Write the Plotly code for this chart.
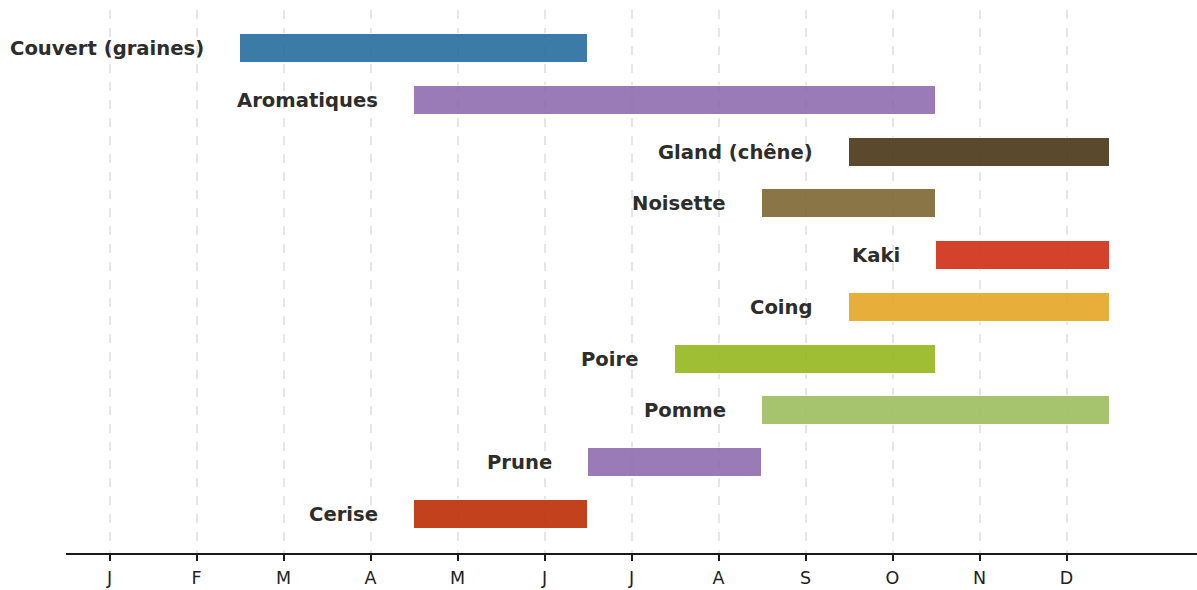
import plotly.graph_objects as go

month_labels = ["J", "F", "M", "A", "M", "J", "J", "A", "S", "O", "N", "D"]

# Items from bottom to top
items = ["Cerise", "Prune", "Pomme", "Poire", "Coing", "Kaki", "Noisette",
         "Gland (chêne)", "Aromatiques", "Couvert (graines)"]
start_month = [5, 7, 9, 8, 10, 11, 9, 10, 5, 3]   # 1 = janvier
end_month = [6, 8, 12, 10, 12, 12, 10, 12, 10, 6]
colors = ["#bd2e05", "#906cb0", "#9dbd5f", "#95b81f", "#e5a725", "#d12e15",
          "#7e6734", "#4a3617", "#906cb0", "#276c9e"]

ypos = list(range(len(items)))
base = [s - 1 - 0.5 for s in start_month]
length = [e - s + 1 for s, e in zip(start_month, end_month)]

fig = go.Figure()
fig.add_trace(go.Bar(
    y=ypos, x=length, base=base, orientation="h",
    marker=dict(color=colors, opacity=0.9, line=dict(color="white", width=1)),
    width=0.56, showlegend=False, hoverinfo="skip",
))

for y, b, name in zip(ypos, base, items):
    fig.add_annotation(
        x=b - 0.39, y=y, text=f"<b>{name}</b>", showarrow=False,
        xanchor="right", yanchor="middle",
        font=dict(family="DejaVu Sans", size=19.6, color="#2d2d2a"),
    )

fig.update_layout(
    width=1197, height=590,
    margin=dict(l=66, r=0, t=10, b=37),
    plot_bgcolor="white", paper_bgcolor="white",
    font=dict(family="DejaVu Sans", size=17, color="#222"),
    bargap=0,
)
fig.update_xaxes(
    range=[-0.5, 12.5], tickmode="array",
    tickvals=list(range(12)), ticktext=month_labels,
    showgrid=True, gridcolor="#e6e6e6", gridwidth=1.5, griddash="dash",
    showline=True, linecolor="#1a1a1a", linewidth=2,
    ticks="outside", ticklen=6, tickwidth=1.5, tickcolor="#1a1a1a",
    tickfont=dict(family="DejaVu Sans", size=17.5, color="#222"),
    ticklabelstandoff=2,
    zeroline=False, fixedrange=True,
)
fig.update_yaxes(
    range=[-0.75, 9.75], showgrid=False, showticklabels=False,
    showline=False, zeroline=False, ticks="", fixedrange=True,
)

fig.write_html(
    "out.html",
    config={"displayModeBar": False},
    post_script="document.body.style.margin='0';document.body.style.overflow='hidden';",
)
